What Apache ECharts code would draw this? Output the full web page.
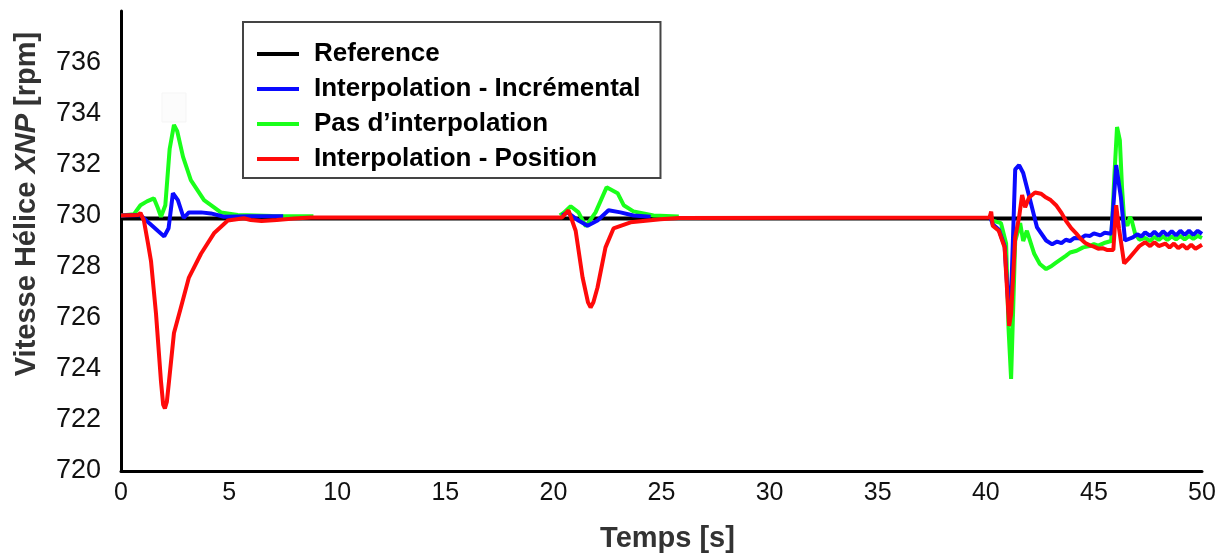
<!DOCTYPE html>
<html>
<head>
<meta charset="utf-8">
<script src="https://cdn.jsdelivr.net/npm/echarts@6/dist/echarts.min.js"></script>
<style>
html, body { margin: 0; padding: 0; background: #fff; }
#chart { width: 1229px; height: 553px; }
</style>
</head>
<body>
<div id="chart"></div>
<script>
var seriesNames = ['Reference', 'Interpolation - Incrémental', "Pas d\u2019interpolation", 'Interpolation - Position'];
var xTicks = [0, 5, 10, 15, 20, 25, 30, 35, 40, 45, 50];
var yTicks = [720, 722, 724, 726, 728, 730, 732, 734, 736];

// [temps (s), vitesse (rpm)] ; null = trou dans la courbe
var reference = [[0, 729.88], [50, 729.88]];

var incremental = [
  [0, 730.0], [0.8, 730.02], [0.92, 730.0], [1.3, 729.7], [1.7, 729.4], [2.0, 729.18], [2.2, 729.5], [2.4, 730.87],
  [2.63, 730.6], [2.9, 729.9], [3.14, 730.12], [3.7, 730.12], [4.16, 730.08], [4.76, 729.95], [6.0, 729.97], [7.5, 729.97],
  [7.6, null],
  [20.4, 730.0], [20.65, 730.12], [21.16, 729.8], [21.58, 729.6], [22.04, 729.8], [22.55, 730.2], [23.1, 730.12],
  [23.7, 730.0], [24.5, 729.95], [24.6, null],
  [40.2, 729.95], [40.32, 729.65], [40.6, 729.45], [40.87, 728.8], [41.08, 726.0], [41.2, 727.6], [41.36, 731.8],
  [41.54, 731.97], [41.73, 731.66], [42.05, 730.6], [42.37, 729.53], [42.79, 729.02], [43.07, 728.87], [43.3, 728.98],
  [43.5, 728.92], [43.7, 729.05], [43.9, 729.0], [44.1, 729.12], [44.4, 729.1], [44.6, 729.22], [44.82, 729.2],
  [45.0, 729.3], [45.3, 729.22], [45.5, 729.32], [45.8, 729.28], [45.92, 730.6], [46.03, 731.97], [46.25, 730.7],
  [46.44, 729.02], [46.8, 729.14], [47.0, 729.26], [47.2, 729.18], [47.37, 729.34], [47.6, 729.2], [47.8, 729.36],
  [48.0, 729.2], [48.2, 729.38], [48.4, 729.22], [48.6, 729.38], [48.8, 729.22], [49.0, 729.4], [49.2, 729.24],
  [49.4, 729.4], [49.6, 729.24], [49.8, 729.4], [50, 729.28]
];

var pasInterp = [
  [0, 730.0], [0.6, 730.05], [0.9, 730.4], [1.2, 730.55], [1.52, 730.67], [1.7, 730.3], [1.85, 729.95], [2.05, 730.4],
  [2.25, 732.6], [2.45, 733.54], [2.6, 733.3], [2.87, 732.29], [3.23, 731.38], [3.84, 730.6], [4.62, 730.12],
  [5.4, 730.02], [7.0, 729.98], [8.9, 729.97], [9.0, null],
  [20.3, 730.0], [20.47, 730.1], [20.8, 730.36], [21.16, 730.12], [21.5, 729.57], [21.95, 730.12], [22.46, 731.1],
  [22.97, 730.87], [23.25, 730.4], [23.7, 730.16], [24.63, 730.0], [25.8, 729.96], [25.9, null],
  [40.2, 729.95], [40.32, 729.8], [40.7, 729.7], [40.94, 728.9], [41.05, 725.6], [41.17, 723.6], [41.36, 729.0],
  [41.59, 729.7], [41.73, 729.0], [41.9, 729.4], [42.24, 728.5], [42.5, 728.1], [42.79, 727.9], [43.0, 728.0],
  [43.25, 728.15], [43.5, 728.3], [43.7, 728.42], [43.9, 728.55], [44.2, 728.62], [44.5, 728.75], [44.8, 728.8],
  [45.0, 728.88], [45.2, 728.82], [45.47, 728.92], [45.8, 729.0], [45.95, 731.6], [46.07, 733.46], [46.2, 732.95],
  [46.3, 731.1], [46.4, 729.8], [46.55, 729.6], [46.67, 729.95], [46.75, 729.8], [46.9, 729.3], [47.1, 729.05],
  [47.37, 729.12], [47.6, 729.0], [47.8, 729.16], [48.0, 729.04], [48.2, 729.18], [48.4, 729.04], [48.6, 729.18],
  [48.8, 729.06], [49.0, 729.2], [49.2, 729.06], [49.4, 729.2], [49.6, 729.08], [49.8, 729.2], [50, 729.12]
];

var position = [
  [0, 730.0], [0.8, 730.02], [0.9, 730.1], [1.06, 729.8], [1.25, 728.9], [1.39, 728.2], [1.62, 726.15], [1.85, 723.5],
  [1.95, 722.6], [2.03, 722.45], [2.12, 722.7], [2.22, 723.5], [2.45, 725.4], [2.77, 726.4], [3.14, 727.57],
  [3.7, 728.5], [4.3, 729.3], [4.94, 729.8], [5.68, 729.89], [6.0, 729.82], [6.5, 729.78], [7.2, 729.82],
  [8.0, 729.88], [8.8, 729.92], [20.4, 729.92], [20.7, 730.2], [21.03, 729.4], [21.35, 727.57], [21.6, 726.6],
  [21.72, 726.4], [21.85, 726.6], [22.04, 727.18], [22.41, 728.75], [22.78, 729.49], [23.57, 729.73],
  [24.95, 729.85], [25.8, 729.9], [40.17, 729.92], [40.25, 730.15], [40.32, 729.6], [40.6, 729.4], [40.87, 728.75],
  [41.08, 725.68], [41.17, 726.15], [41.36, 729.14], [41.54, 729.93], [41.68, 730.8], [41.82, 730.32], [42.0, 730.7],
  [42.28, 730.9], [42.55, 730.85], [42.79, 730.7], [43.0, 730.6], [43.25, 730.4], [43.5, 730.1], [43.7, 729.8],
  [43.95, 729.5], [44.18, 729.3], [44.4, 729.08], [44.6, 728.92], [44.82, 728.83], [45.0, 728.78], [45.2, 728.7],
  [45.4, 728.72], [45.6, 728.65], [45.9, 728.65], [46.03, 730.4], [46.16, 729.5], [46.4, 728.12], [46.6, 728.3],
  [46.9, 728.6], [47.1, 728.8], [47.37, 728.95], [47.6, 728.8], [47.8, 728.95], [48.0, 728.8], [48.3, 728.9],
  [48.5, 728.75], [48.7, 728.9], [48.9, 728.72], [49.1, 728.85], [49.3, 728.7], [49.5, 728.85], [49.7, 728.7],
  [50, 728.85]
];

var colors = ['#000000', '#0a0aff', '#1aff1a', '#ff0a0a'];
var font = "'Liberation Sans', Arial, sans-serif";

function lineSerie(i, data, z) {
  return {
    name: seriesNames[i],
    type: 'line',
    data: data,
    z: z,
    showSymbol: false,
    symbol: 'none',
    connectNulls: false,
    animation: false,
    lineStyle: { color: colors[i], width: 4 },
    itemStyle: { color: colors[i] }
  };
}

var option = {
  backgroundColor: '#fff',
  animation: false,
  grid: { left: 121, right: 27, top: 11, bottom: 82, outerBoundsMode: 'none', containLabel: false },
  legend: {
    data: seriesNames,
    orient: 'vertical',
    left: 243,
    top: 22,
    padding: [19, 20, 6, 14],
    itemGap: 9,
    itemWidth: 42,
    itemHeight: 4,
    icon: 'rect',
    backgroundColor: '#fff',
    borderColor: '#444',
    borderWidth: 2,
    textStyle: {
      fontFamily: font,
      fontWeight: 'bold',
      fontSize: 26,
      color: '#000',
      padding: [0, 0, 0, 10]
    }
  },
  graphic: [{
    type: 'rect',
    shape: { x: 162, y: 93, width: 24, height: 29 },
    style: { fill: '#fcfcfc', stroke: '#f5f5f5', lineWidth: 1 },
    z: 0
  }],
  xAxis: {
    type: 'value',
    min: xTicks[0],
    max: xTicks[xTicks.length - 1],
    interval: 5,
    name: 'Temps [s]',
    nameLocation: 'middle',
    nameGap: 53,
    nameTextStyle: { fontFamily: font, fontWeight: 'bold', fontSize: 29, color: '#333', padding: [0, 0, 0, 12] },
    axisLine: { show: true, lineStyle: { color: '#000', width: 3 } },
    axisTick: { show: false },
    splitLine: { show: false },
    axisLabel: {
      margin: 10,
      fontFamily: font,
      fontSize: 25,
      color: '#111',
      formatter: function (v) { return xTicks.indexOf(v) >= 0 ? String(v) : ''; }
    }
  },
  yAxis: {
    type: 'value',
    min: yTicks[0],
    max: 738,
    interval: 2,
    name: '{b|Vitesse Hélice }{i|XNP}{b| [rpm]}',
    nameLocation: 'middle',
    nameGap: 80,
    nameRotate: 90,
    nameTextStyle: {
      fontFamily: font,
      fontWeight: 'bold',
      fontSize: 29,
      color: '#333',
      padding: [0, 0, 0, 74],
      rich: {
        b: { fontFamily: font, fontWeight: 'bold', fontSize: 29, color: '#333' },
        i: { fontFamily: font, fontWeight: 'bold', fontStyle: 'italic', fontSize: 29, color: '#333' }
      }
    },
    axisLine: { show: true, lineStyle: { color: '#000', width: 3 } },
    axisTick: { show: false },
    splitLine: { show: false },
    axisLabel: {
      margin: 20,
      showMaxLabel: false,
      fontFamily: font,
      fontSize: 27,
      color: '#111',
      formatter: function (v) { return yTicks.indexOf(v) >= 0 ? String(v) : ''; }
    }
  },
  series: [
    lineSerie(0, reference, 1),
    lineSerie(1, incremental, 3),
    lineSerie(2, pasInterp, 2),
    lineSerie(3, position, 4)
  ]
};

echarts.init(document.getElementById('chart')).setOption(option);
</script>
</body>
</html>
